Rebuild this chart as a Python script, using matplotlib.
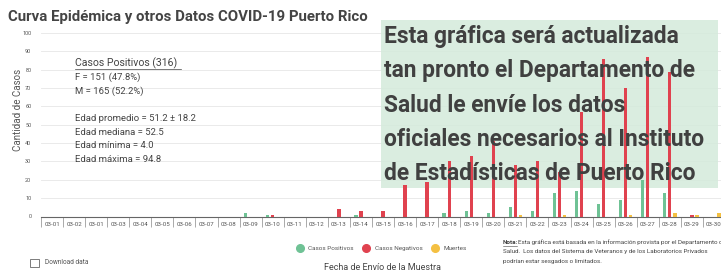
import matplotlib.pyplot as plt
import numpy as np
from matplotlib.lines import Line2D
from matplotlib.patches import Rectangle

plt.rcParams['font.family'] = ['Roboto', 'DejaVu Sans']

fechas = ['03-01', '03-02', '03-01', '03-03', '03-04', '03-05', '03-06', '03-07',
          '03-08', '03-09', '03-10', '03-11', '03-12', '03-13', '03-14', '03-15',
          '03-16', '03-17', '03-18', '03-19', '03-20', '03-21', '03-22', '03-23',
          '03-24', '03-25', '03-26', '03-27', '03-28', '03-29', '03-30']
positivos = [0, 0, 0, 0, 0, 0, 0, 0, 0, 2, 1, 0, 0, 0, 1, 0,
             0, 0, 2, 3, 2, 5, 3, 13, 14, 7, 9, 20, 13, 0, 0]
negativos = [0, 0, 0, 0, 0, 0, 0, 0, 0, 0, 1, 0, 0, 4, 3, 3,
             17, 19, 30, 33, 41, 28, 30, 24, 57, 86, 70, 87, 79, 1, 0]
muertes = [0, 0, 0, 0, 0, 0, 0, 0, 0, 0, 0, 0, 0, 0, 0, 0,
           0, 0, 0, 0, 0, 1, 0, 1, 0, 0, 1, 0, 2, 1, 2]

resumen = ['F = 151 (47.8%)', 'M = 165 (52.2%)', '',
           'Edad promedio = 51.2 \u00b1 18.2', 'Edad mediana = 52.5',
           'Edad m\u00ednima = 4.0', 'Edad m\u00e1xima = 94.8']

verde = '#6fc295'
rojo = '#e0424f'
amarillo = '#f4c042'
W, H = 721, 271


def fx(px):
    return px / W


def fy(py):
    return 1 - py / H


fig = plt.figure(figsize=(W / 100, H / 100), dpi=100)
ax = fig.add_axes([fx(41), fy(216.5), 684 / W, (216.5 - 33) / H])

x = np.arange(len(fechas))
bw = 0.15
ax.bar(x - 0.23, positivos, bw, color=verde, zorder=3)
ax.bar(x, negativos, bw, color=rojo, zorder=3)
ax.bar(x + 0.23, muertes, bw, color=amarillo, zorder=3)

ax.set_xlim(-0.5, len(fechas) - 0.5)
ax.set_ylim(0, 100)
ax.set_yticks(range(0, 101, 10))
ax.tick_params(axis='y', length=0, labelsize=4, labelcolor='#555555', pad=7)
ax.set_xticks(x)
ax.set_xticklabels(fechas)
ax.set_xticks(np.arange(-0.5, len(fechas), 1), minor=True)
ax.tick_params(axis='x', which='major', length=0, labelsize=4.4,
               labelcolor='#555555', pad=4)
ax.tick_params(axis='x', which='minor', length=7, width=0.5, color='#888888')
ax.grid(axis='y', color='#e6e6e6', linewidth=0.6, zorder=0)
for s in ['top', 'right', 'left']:
    ax.spines[s].set_visible(False)
ax.spines['bottom'].set_color('#666666')
ax.spines['bottom'].set_linewidth(0.8)

# recuadro de aviso
box = Rectangle((fx(381), fy(188)), fx(718) - fx(381), fy(20) - fy(188),
                transform=fig.transFigure, facecolor='#d4eadb', alpha=0.85,
                edgecolor='none', zorder=2)
ax.add_patch(box)
box.set_clip_on(False)
aviso = ['Esta gr\u00e1fica ser\u00e1 actualizada',
         'tan pronto el Departamento de',
         'Salud le env\u00ede los datos',
         'oficiales necesarios al Instituto',
         'de Estad\u00edsticas de Puerto Rico']
for i, linea in enumerate(aviso):
    fig.text(fx(384), fy(37 + 34 * i), linea, fontsize=16.4, fontweight='bold',
             color='#404040', va='center', ha='left', zorder=5)

fig.text(fx(8), fy(17), 'Curva Epid\u00e9mica y otros Datos COVID-19 Puerto Rico',
         fontsize=10.8, fontweight='bold', color='#444444', va='center')

fig.text(fx(18), fy(110), 'Cantidad de Casos', rotation=90, fontsize=7,
         color='#555555', va='center', ha='center')

# resumen de casos
fig.text(fx(75), fy(63), 'Casos Positivos (316)', fontsize=7.6,
         color='#444444', va='center')
fig.add_artist(Line2D([fx(75), fx(181)], [fy(69), fy(69)], color='#444444',
                      linewidth=0.5))
for i, linea in enumerate(resumen):
    if linea:
        fig.text(fx(75), fy(77 + 13.8 * i), linea, fontsize=6.8,
                 color='#444444', va='center')

# leyenda
handles = [Line2D([], [], marker='o', linestyle='', markersize=5.5, color=c)
           for c in (verde, rojo, amarillo)]
fig.legend(handles, ['Casos Positivos', 'Casos Negativos', 'Muertes'],
           loc='center', bbox_to_anchor=(fx(380), fy(248)), ncol=3,
           frameon=False, fontsize=4.6, handletextpad=0.3, columnspacing=1.0,
           labelcolor='#555555')

fig.text(fx(383), fy(267), 'Fecha de Env\u00edo de la Muestra', fontsize=6.5,
         color='#444444', ha='center', va='center')

# descarga
fig.add_artist(Rectangle((fx(30), fy(267)), 9 / W, 8 / H, facecolor='none',
                         edgecolor='#666666', linewidth=0.6,
                         transform=fig.transFigure))
fig.text(fx(45), fy(263), 'Download data', fontsize=4.7, color='#555555',
         va='center')

# nota
fn = 4.5
nx = 503
fig.text(fx(nx), fy(242), 'Nota:', fontsize=fn, fontweight='bold',
         color='#444444', va='center')
fig.add_artist(Line2D([fx(nx), fx(nx + 14)], [fy(245.5), fy(245.5)],
                      color='#444444', linewidth=0.4))
fig.text(fx(nx + 15), fy(242),
         'Esta gr\u00e1fica est\u00e1 basada en la informaci\u00f3n provista por el Departamento de',
         fontsize=fn, color='#444444', va='center')
fig.text(fx(nx), fy(251.5),
         'Salud.  Los datos del Sistema de Veteranos y de los Laboratorios Privados',
         fontsize=fn, color='#444444', va='center')
fig.text(fx(nx), fy(261), 'podr\u00edan estar sesgados o limitados.',
         fontsize=fn, color='#444444', va='center')

fig.savefig('out.png', dpi=100)
